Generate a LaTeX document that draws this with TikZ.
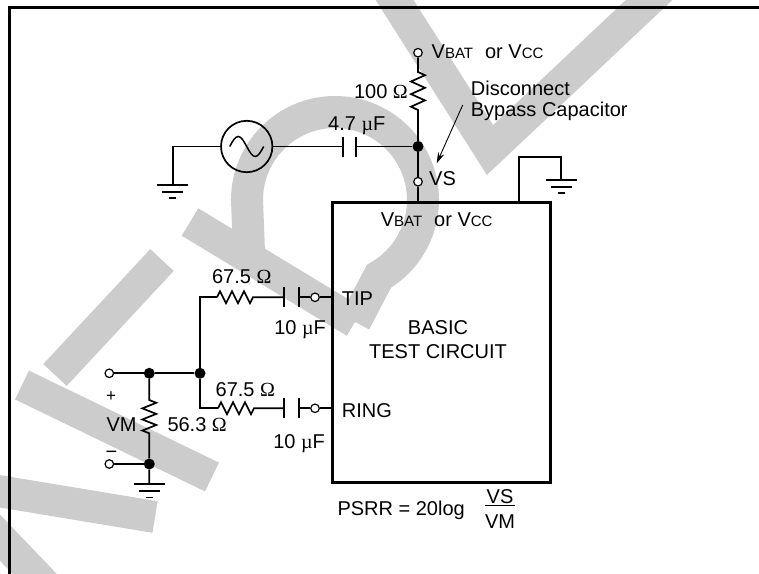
\documentclass[tikz,border=0pt]{standalone}
\usepackage{fontspec}
\setmainfont{Liberation Sans}
\newfontfamily\symfont{Liberation Serif}
\usetikzlibrary{arrows.meta}
\newcommand\ohmsym{{\symfont Ω}}
\newcommand\musym{{\symfont µ}}
\newcommand\lowcap[1]{{\fontsize{15}{17}\selectfont #1}}
\definecolor{wmgray}{HTML}{CCCCCC}
\begin{document}
\begin{tikzpicture}[x=1pt,y=-1pt,
  wire/.style={line width=1.7pt, line join=miter},
  plate/.style={line width=2.2pt},
  term/.style={circle, draw, fill=white, line width=1.2pt, minimum size=8.5pt, inner sep=0pt},
  jdot/.style={circle, fill, minimum size=11pt, inner sep=0pt},
  lbl/.style={font=\fontsize{20}{23}\selectfont, inner sep=0pt},
  wm/.style={line width=32pt, draw=wmgray, line join=miter},
  gnd/.pic={
    \draw[wire] (-15.5,0) -- (15.5,0);
    \draw[wire] (-10.5,6.7) -- (10.5,6.7);
    \draw[wire] (-3.5,13.3) -- (3.5,13.3);
  }]
\useasboundingbox (0,0) rectangle (759,573);
\fill[white] (0,0) rectangle (759,573);
% watermark (approximate)
\draw[wm] (385,-15) -- (490,150) -- (665,-15);
\draw[wm] (190,222) -- (355,322);
\draw[wm] (249,252) -- (247,200) arc[start angle=180, end angle=420, radius=88] -- (355,322);
\draw[wm] (55,375) -- (162,260);
\draw[wm] (22,385) -- (212,477);
\draw[wm] (-20,488) -- (155,517);
\draw[wm] (-15,522) -- (50,590);
% frame
\draw[line width=3pt] (9.5,600) -- (9.5,7.8) -- (800,7.8);
% main box
\node[draw, line width=3pt, minimum width=218.3pt, minimum height=279.7pt, anchor=north west, inner sep=0pt] (box) at (331,201) {};
% supply branch
\node[term] (tvbat) at (418,52.7) {};
\coordinate (r1a) at (418,72);
\coordinate (r1b) at (418,110);
\node[jdot] (j1) at (418,146.5) {};
\node[term] (tvs) at (418,181.7) {};
\draw[wire] (tvbat) -- (r1a) -- ++(7,3.2) -- ++(-14,6.3) -- ++(14,6.3) -- ++(-14,6.3) -- ++(14,6.3) -- ++(-14,6.3) -- (r1b) -- (j1) -- (tvs) -- (tvs |- box.north);
% source and 4.7uF
\node[circle, draw, line width=1.7pt, minimum size=51.4pt, inner sep=0pt] (src) at (246.7,146.5) {};
\draw[line width=1.5pt] (src.center) ++(-17,0) sin ++(8.5,-10) cos ++(8.5,10) sin ++(8.5,10) cos ++(8.5,-10);
\coordinate (c1a) at (343,146.5);
\coordinate (c1b) at (355.7,146.5);
\draw[wire] (src.east) -- (c1a);
\draw[wire] (c1b) -- (j1);
\draw[plate] ([yshift=10pt]c1a) -- ([yshift=-10pt]c1a);
\draw[plate] ([yshift=10pt]c1b) -- ([yshift=-10pt]c1b);
\coordinate (g1) at (172.7,185);
\draw[wire] (src.west) -| (g1);
\pic at (g1) {gnd};
% right ground
\coordinate (b2) at (519,201);
\coordinate (g2) at (561,180);
\draw[wire] (b2) -- (519,156.7) -| (g2);
\pic at (g2) {gnd};
% arrow
\coordinate (atail) at (462.7,105);
\coordinate (ahead) at (436.7,163.3);
\draw[line width=0.9pt, -{Stealth[length=11pt,width=6.5pt]}] (atail) -- (ahead);
% TIP branch
\node[term] (ttip) at (315,297.3) {};
\coordinate (r2a) at (217,297.3);
\coordinate (r2b) at (253,297.3);
\coordinate (c2a) at (284.3,297.3);
\coordinate (c2b) at (299,297.3);
\draw[wire] (r2a) -- ++(3,-6) -- ++(6,12) -- ++(6,-12) -- ++(6,12) -- ++(6,-12) -- ++(6,12) -- (r2b) -- (c2a);
\draw[plate] ([yshift=10pt]c2a) -- ([yshift=-10pt]c2a);
\draw[plate] ([yshift=10pt]c2b) -- ([yshift=-10pt]c2b);
\draw[wire] (c2b) -- (ttip) -- (ttip -| box.west);
% RING branch
\node[term] (tring) at (315,408.3) {};
\coordinate (r3a) at (218,408.3);
\coordinate (r3b) at (254,408.3);
\coordinate (c3a) at (284.3,408.3);
\coordinate (c3b) at (299,408.3);
\draw[wire] (r3a) -- ++(3,-6) -- ++(6,12) -- ++(6,-12) -- ++(6,12) -- ++(6,-12) -- ++(6,12) -- (r3b) -- (c3a);
\draw[plate] ([yshift=10pt]c3a) -- ([yshift=-10pt]c3a);
\draw[plate] ([yshift=10pt]c3b) -- ([yshift=-10pt]c3b);
\draw[wire] (c3b) -- (tring) -- (tring -| box.west);
% VM network
\node[term] (tplus) at (109.3,373.3) {};
\node[jdot] (j2) at (149.3,373.3) {};
\node[jdot] (j3) at (200,373.3) {};
\node[term] (tminus) at (109.3,464) {};
\node[jdot] (j4) at (149.3,464) {};
\coordinate (r4a) at (149.3,400);
\coordinate (r4b) at (149.3,433.3);
\coordinate (g3) at (149.3,484.3);
\draw[wire] (tplus) -- (j2) -- (j3);
\draw[wire] (r2a) -| (j3) |- (r3a);
\draw[wire] (j2) -- (r4a) -- ++(7,2.8) -- ++(-14,5.55) -- ++(14,5.55) -- ++(-14,5.55) -- ++(14,5.55) -- ++(-14,5.55) -- (r4b) -- (j4) -- (g3);
\draw[wire] (tminus) -- (j4);
\pic at (g3) {gnd};
% labels
\node[lbl, anchor=base west] (lvbat) at (431.5,58.3) {V\lowcap{BAT}\hspace{12pt}or V\lowcap{CC}};
\node[lbl, anchor=base east] (l100) at (408,98.3) {100 \ohmsym};
\node[lbl, anchor=base] (l47) at (356.7,130) {4.7 \musym F};
\node[lbl, anchor=base west] (ldisc1) at (470.7,95) {Disconnect};
\node[lbl, anchor=base west] (ldisc2) at (470.7,116) {Bypass Capacitor};
\node[lbl, anchor=base west] (lvs) at (429,185) {VS};
\node[lbl, anchor=base] (lboxv) at (436.7,226.7) {V\lowcap{BAT}\hspace{12pt}or V\lowcap{CC}};
\node[lbl, anchor=base west] (ltip) at (341.7,305) {TIP};
\node[lbl, anchor=base] (lbasic) at (438,334.3) {BASIC};
\node[lbl, anchor=base] (ltest) at (438,358.3) {TEST CIRCUIT};
\node[lbl, anchor=base west] (lring) at (341.7,417.3) {RING};
\node[lbl, anchor=base] (l675a) at (241.7,283.3) {67.5 \ohmsym};
\node[lbl, anchor=base east] (l10a) at (326,334) {10 \musym F};
\node[lbl, anchor=base] (l675b) at (245.3,396.7) {67.5 \ohmsym};
\node[lbl, anchor=base east] (l10b) at (325,448.3) {10 \musym F};
\node[lbl, anchor=base east] (lvm) at (136.7,431.7) {VM};
\node[lbl, anchor=base west] (l563) at (167.3,431.7) {56.3 \ohmsym};
\node[inner sep=0pt, font=\fontsize{17}{19}\selectfont, anchor=base] (lplus) at (111,401) {+};
\node[inner sep=0pt, font=\fontsize{20}{22}\selectfont, anchor=base] (lminus) at (111.5,458.9) {−};
\node[lbl, anchor=base west] (lpsrr) at (337.3,515.7) {PSRR = 20log};
\node[lbl, anchor=base] (lvsf) at (500,503.3) {VS};
\node[lbl, anchor=base] (lvmf) at (500,528.3) {VM};
\draw[line width=1.3pt] (485,505.5) -- (515,505.5);
\end{tikzpicture}
\end{document}
